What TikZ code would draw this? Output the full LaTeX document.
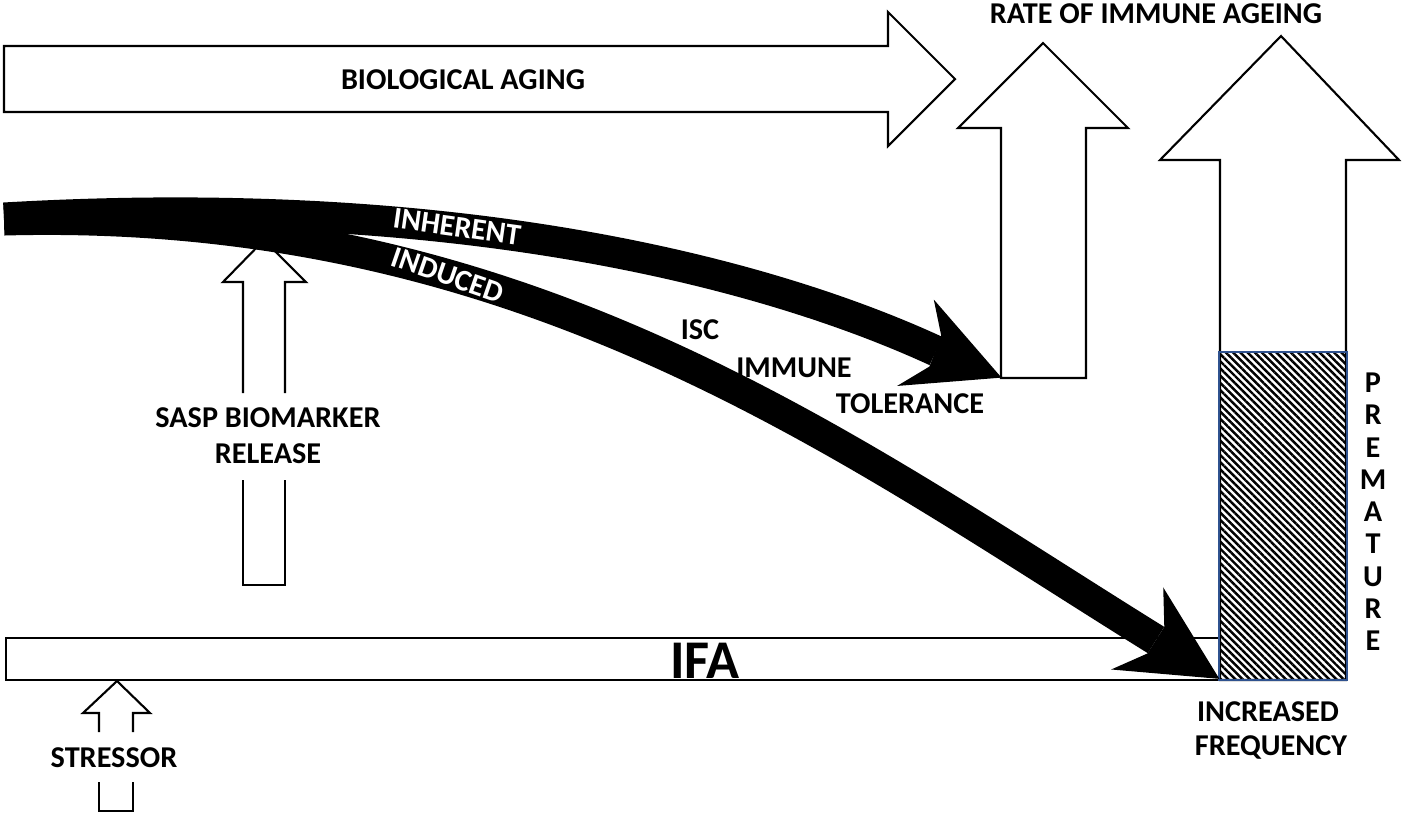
\documentclass[tikz,border=0pt]{standalone}
\usepackage{fontspec}
\setmainfont{Carlito}
\usetikzlibrary{patterns.meta}
\definecolor{hatchblue}{RGB}{47,82,143}
\tikzset{
  blockarrow/.style={draw=black, fill=white, line width=0.6pt, line join=miter},
  outline/.style={draw=black, line width=0.6pt},
  lbl/.style={font=\fontsize{8.6}{10.3}\selectfont\bfseries, inner sep=0pt, anchor=base},
  wlbl/.style={font=\fontsize{8.6}{10.3}\selectfont\bfseries, inner sep=0pt, text=white, anchor=center},
  branch/.style={draw=black, line width=0.31cm, line cap=butt},
  headfill/.style={fill=black, draw=black, line width=0.4pt, line join=miter},
}
\begin{document}
\begin{tikzpicture}[x=0.01cm,y=-0.01cm]
\useasboundingbox (0,0) rectangle (1418,814);
% biological aging arrow
\path[blockarrow] (4,46) -- (888,46) -- (888,12) -- (955,79) -- (888,146) -- (888,112) -- (4,112) -- cycle;
% rate of immune ageing arrows
\path[blockarrow] (1001,378) -- (1001,128) -- (958,128) -- (1043,43) -- (1128,128) -- (1086,128) -- (1086,378) -- cycle;
\path[blockarrow] (1220,680) -- (1220,160) -- (1160,160) -- (1281,36) -- (1399,160) -- (1346,160) -- (1346,680) -- cycle;
% SASP arrow (interrupted by label)
\draw[outline, line join=miter] (243,393) -- (243,282) -- (223,282) -- (264,240) -- (306,282) -- (285,282) -- (285,393);
\draw[outline, line join=miter] (243,480) -- (243,585) -- (285,585) -- (285,480);
% stressor arrow
\draw[outline, line join=miter] (99,732) -- (99,713) -- (83,713) -- (117,681) -- (150,713) -- (133,713) -- (133,732);
\draw[outline, line join=miter] (99,782) -- (99,811) -- (133,811) -- (133,782);
% IFA bar
\draw[outline, fill=white] (6,638) rectangle (1219,680);
% hatched premature block
\path[pattern={Lines[angle=-45,distance=1.45pt,line width=0.7pt]}, draw=hatchblue, line width=0.5pt] (1219,352) rectangle (1347,680);
% black branches
\draw[branch] (4,218) .. controls (450,192) and (760,270) .. (936,351);
\draw[branch] (4,220) .. controls (525,206) and (845,447) .. (1156,640);
\path[headfill] (942,336) -- (935,302) -- (1000,377) -- (900,385) -- (930,367) -- cycle;
\path[headfill] (1165,627) -- (1164,590) -- (1218,678) -- (1114,669) -- (1148,654) -- cycle;
% labels
\node[lbl] (ba) at (463,89) {BIOLOGICAL AGING};
\node[lbl] (rate) at (1156,23) {RATE OF IMMUNE AGEING};
\node[lbl] (sasp1) at (268,427) {SASP BIOMARKER};
\node[lbl] (sasp2) at (268,463) {RELEASE};
\node[lbl] (stressor) at (114,767) {STRESSOR};
\node[lbl] (inc1) at (1268,721) {INCREASED};
\node[lbl] (inc2) at (1271,755) {FREQUENCY};
\node[lbl] (isc) at (700,339) {ISC};
\node[lbl] (imm) at (794,377) {IMMUNE};
\node[lbl] (tol) at (910,413) {TOLERANCE};
\node[font=\fontsize{15.5}{18}\selectfont\bfseries, inner sep=0pt, anchor=base] (ifa) at (705,678) {IFA};
\node[wlbl, rotate=-8] (inh) at (457,227) {INHERENT};
\node[wlbl, rotate=-19] (ind) at (448,275) {INDUCED};
\foreach \ch [count=\i from 0] in {P,R,E,M,A,T,U,R,E} {
  \node[lbl] (pm\i) at (1373,{392.5+32.25*\i}) {\ch};
}
\end{tikzpicture}
\end{document}
